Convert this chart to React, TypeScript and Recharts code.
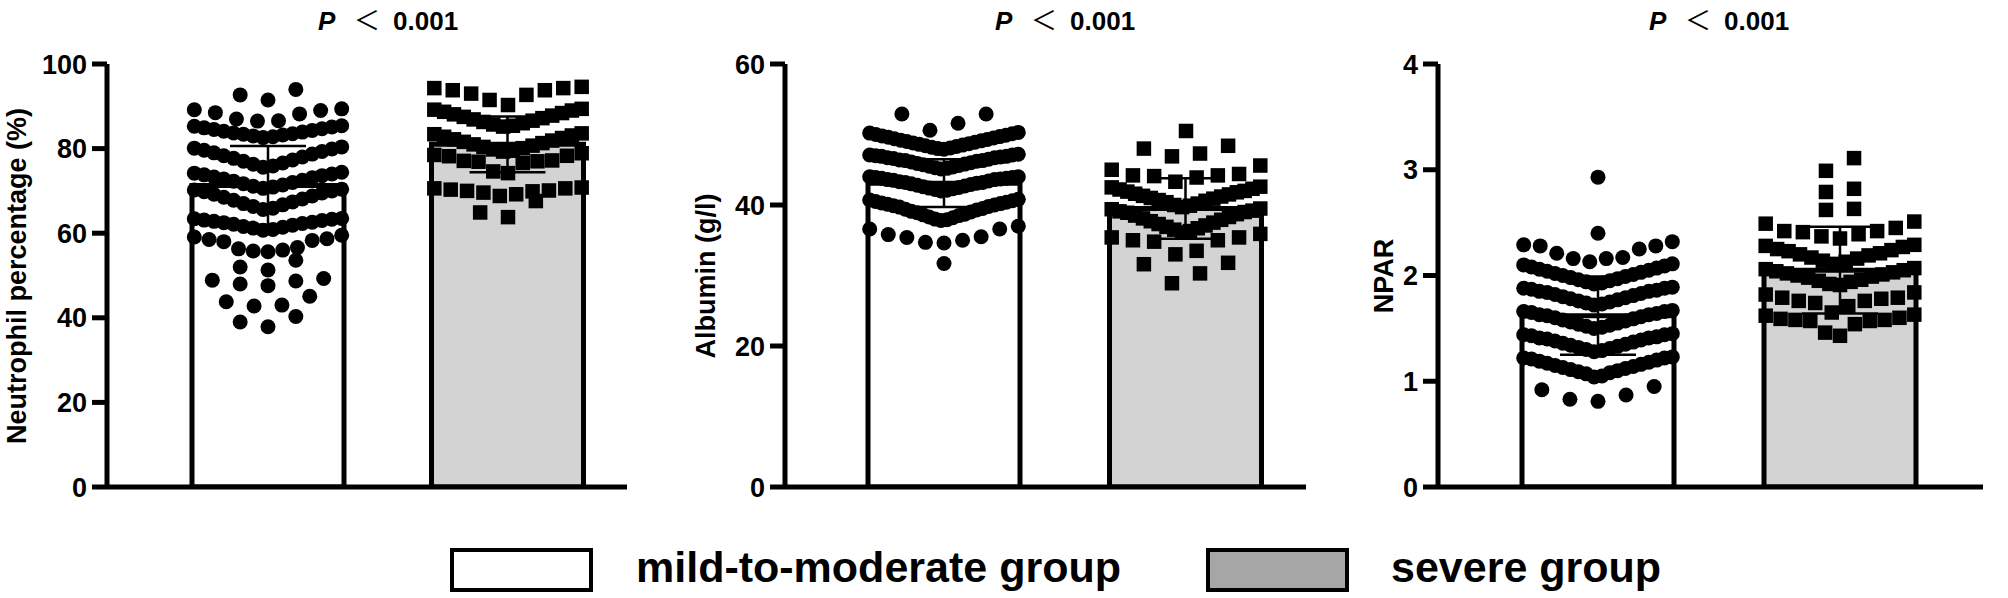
import React from "react";
import { ComposedChart, Bar, Cell, ErrorBar, Scatter, XAxis, YAxis } from "recharts";

const GROUPS = ["mild-to-moderate group", "severe group"];
const GROUP_X = [1, 2];
const P_TEXT = "0.001";

// neutrophil percentage (%)
const NEUT_TICKS = [0, 20, 40, 60, 80, 100];
const NEUT_MEAN = [71.3, 81.0];
const NEUT_SD = [9.3, 6.6];
const NEUT_MILD = [
  37.9, 39.0, 40.3,
  42.8, 43.0, 43.8, 45.1,
  47.6, 48.0, 48.7, 48.9, 49.3,
  51.3, 52.0, 53.6,
  55.6, 55.8, 56.0, 56.3, 56.6, 58.0, 58.3, 58.5, 58.7, 59.1, 59.5,
  60.7, 60.9, 61.2, 61.4, 61.6, 61.9, 62.1, 62.3, 62.5, 62.6, 62.8, 63.0, 63.1, 63.3, 63.4, 63.5,
  65.6, 65.9, 66.3, 66.7, 67.0, 67.4, 67.8, 68.1, 68.5, 68.8, 69.2, 69.5, 69.8, 70.0, 70.2, 70.4,
  70.6, 70.9, 71.1, 71.4, 71.7, 72.0, 72.3, 72.5, 72.8, 73.1, 73.3, 73.6, 73.8, 74.0, 74.2, 74.4,
  75.6, 75.9, 76.3, 76.6, 77.0, 77.3, 77.7, 78.0, 78.3, 78.7, 79.0, 79.3, 79.6, 79.9, 80.1, 80.4,
  82.6, 82.8, 83.0, 83.2, 83.4, 83.5, 83.7, 83.9, 84.1, 84.3, 84.5, 84.7, 84.9, 85.1, 85.3, 85.4,
  86.5, 86.6, 87.0, 88.2, 88.5, 89.0, 89.2, 89.4,
  91.5, 92.7, 94.0,
];
const NEUT_SEVERE = [
  63.8, 64.9, 67.6,
  68.8, 69.2, 69.6, 69.9, 70.0, 70.1, 70.3, 70.6, 70.6, 70.8,
  74.2, 74.6, 76.6, 76.9, 77.0, 77.1, 77.2, 78.2, 78.3, 78.5, 78.9,
  79.3, 79.5, 79.8, 80.1, 80.4, 80.7, 81.0, 81.3, 81.6, 81.9, 82.2, 82.5, 82.8, 83.1, 83.4, 83.6,
  85.2, 85.4, 85.7, 86.0, 86.3, 86.6, 86.9, 87.2, 87.5, 87.8, 88.1, 88.4, 88.7, 89.0, 89.2, 89.4,
  90.3, 91.5, 92.7, 93.0, 93.8, 93.8, 94.3, 94.3, 94.6,
];

// albumin (g/l)
const ALB_TICKS = [0, 20, 40, 60];
const ALB_MEAN = [43.1, 39.5];
const ALB_SD = [3.4, 4.3];
const ALB_MILD = [
  31.7,
  34.6, 34.7, 35.0, 35.4, 35.5, 35.8, 36.6, 36.6, 37.0,
  37.8, 37.9, 38.0, 38.2, 38.3, 38.5, 38.6, 38.7, 38.9, 39.0, 39.1, 39.3, 39.4,
  39.5, 39.7, 39.8, 39.9, 40.0, 40.1, 40.2, 40.3, 40.4, 40.5, 40.6, 40.7, 40.8,
  42.0, 42.1, 42.2, 42.3, 42.4, 42.5, 42.6, 42.7, 42.8, 42.9, 43.0, 43.1, 43.2,
  43.2, 43.3, 43.4, 43.5, 43.6, 43.6, 43.7, 43.8, 43.8, 43.9, 43.9, 44.0, 44.0,
  45.1, 45.2, 45.3, 45.4, 45.5, 45.6, 45.7, 45.8, 45.9, 46.0, 46.1, 46.2, 46.3,
  46.3, 46.4, 46.5, 46.6, 46.7, 46.7, 46.8, 46.9, 46.9, 47.0, 47.1, 47.1, 47.2,
  47.9, 48.0, 48.1, 48.2, 48.3, 48.4, 48.5, 48.6, 48.7, 48.8, 48.9, 49.0, 49.1,
  49.2, 49.3, 49.4, 49.5, 49.6, 49.7, 49.8, 49.9, 50.0, 50.1, 50.2, 50.3,
  50.6, 51.6, 52.9, 52.9,
];
const ALB_SEVERE = [
  28.9, 30.3, 31.6, 31.8,
  33.0, 33.5, 34.8, 35.0, 35.0, 35.4, 35.4, 35.9,
  36.1, 36.3, 36.5, 36.7, 36.9, 37.1, 37.3, 37.5, 37.7, 37.9,
  38.1, 38.3, 38.5, 38.7, 38.9, 39.0, 39.1, 39.2, 39.4, 39.5,
  39.7, 39.9, 40.0, 40.2, 40.4, 40.6, 40.7, 40.9, 41.0, 41.2,
  41.3, 41.5, 41.6, 41.8, 41.9, 42.0, 42.2, 42.3, 42.5, 42.6,
  43.3, 43.9, 44.1, 44.2, 44.2, 44.4, 45.0, 45.6,
  46.9, 47.3, 48.0, 48.4,
  50.5,
];

// NPAR
const NPAR_TICKS = [0, 1, 2, 3, 4];
const NPAR_MEAN = [1.62, 2.05];
const NPAR_SD = [0.37, 0.41];
const NPAR_MILD = [
  0.81, 0.83, 0.87, 0.92, 0.95,
  1.04, 1.05, 1.07, 1.08, 1.09, 1.10, 1.11, 1.12, 1.13, 1.14,
  1.15, 1.16, 1.17, 1.18, 1.19, 1.20, 1.21, 1.22, 1.22, 1.23,
  1.28, 1.29, 1.30, 1.31, 1.32, 1.33, 1.34, 1.35, 1.36, 1.37,
  1.38, 1.39, 1.40, 1.41, 1.41, 1.42, 1.43, 1.44, 1.44, 1.45,
  1.50, 1.51, 1.52, 1.53, 1.54, 1.55, 1.56, 1.57, 1.58, 1.59,
  1.60, 1.61, 1.62, 1.63, 1.63, 1.64, 1.65, 1.66, 1.66, 1.67,
  1.72, 1.73, 1.74, 1.75, 1.76, 1.77, 1.78, 1.79, 1.80, 1.81,
  1.82, 1.83, 1.84, 1.85, 1.85, 1.86, 1.87, 1.88, 1.88, 1.89,
  1.92, 1.93, 1.94, 1.95, 1.96, 1.97, 1.98, 1.99, 2.00, 2.01,
  2.02, 2.03, 2.04, 2.05, 2.06, 2.07, 2.08, 2.09, 2.10, 2.11,
  2.13, 2.16, 2.16, 2.17, 2.21, 2.25, 2.28, 2.28, 2.29, 2.32,
  2.40, 2.93,
];
const NPAR_SEVERE = [
  1.43, 1.46, 1.54, 1.57, 1.57, 1.58, 1.58, 1.59, 1.60, 1.62, 1.63,
  1.65, 1.71, 1.74, 1.76, 1.76, 1.78, 1.79, 1.79, 1.82, 1.84,
  1.91, 1.92, 1.94, 1.95, 1.96, 1.98, 1.99, 2.00, 2.01, 2.02, 2.03, 2.04, 2.05, 2.06, 2.07,
  2.11, 2.13, 2.14, 2.16, 2.17, 2.19, 2.20, 2.21, 2.23, 2.24, 2.25, 2.27, 2.28, 2.29,
  2.35, 2.37, 2.39, 2.41, 2.42, 2.42, 2.45, 2.49, 2.51,
  2.62, 2.63, 2.79, 2.82, 2.99, 3.11,
];

// row grid of the dot plot (value units), one per group
type RowGrid = { base: number; step: number };
const NEUT_ROWS: RowGrid[] = [{ base: 0.5, step: 5 }, { base: 63.5, step: 5.2 }];
const ALB_ROWS: RowGrid[] = [{ base: 31.3, step: 3.2 }, { base: 28.8, step: 3.6 }];
const NPAR_ROWS: RowGrid[] = [{ base: 0.8, step: 0.22 }, { base: 1.42, step: 0.22 }];

const HALF_SPREAD = 0.307; // in category units
const MAX_GAP = 0.116;
const FONT = "'Liberation Sans', Arial, Helvetica, sans-serif";

// GraphPad-like scatter: values binned into rows, lowest in the middle
function dotLayout(values: number[], center: number, grid: RowGrid) {
  const rows = new Map<number, number[]>();
  values.forEach((v) => {
    const k = Math.floor((v - grid.base) / grid.step);
    if (!rows.has(k)) rows.set(k, []);
    rows.get(k)!.push(v);
  });
  const pts: { x: number; y: number }[] = [];
  rows.forEach((row) => {
    row.sort((a, b) => a - b);
    const n = row.length;
    const gap = n > 1 ? Math.min(MAX_GAP, (2 * HALF_SPREAD) / (n - 1)) : 0;
    const slots = row.map((_, i) => (i - (n - 1) / 2) * gap);
    const order = slots
      .map((_, i) => i)
      .sort((a, b) => Math.abs(slots[a]) - Math.abs(slots[b]) || slots[a] - slots[b]);
    order.forEach((slot, rank) => pts.push({ x: center + slots[slot], y: row[rank] }));
  });
  return pts;
}

const circleDot = (p: any) => <circle cx={p.cx} cy={p.cy} r={7.5} fill="#000" />;
const squareDot = (p: any) => (
  <rect x={p.cx - 7.25} y={p.cy - 7.25} width={14.5} height={14.5} fill="#000" />
);

type PanelProps = {
  plotLeft: number;
  plotWidth: number;
  firstCenter: number;
  spacing: number;
  ticks: number[];
  mean: number[];
  sd: number[];
  mild: number[];
  severe: number[];
  rows: RowGrid[];
  label: string;
  labelX: number;
};

function Panel(props: PanelProps) {
  const { plotLeft, plotWidth, firstCenter, spacing, ticks } = props;
  // numeric axis for the dots, category axis for the bars, both aligned
  const d0 = 1 - (firstCenter - plotLeft) / spacing;
  const d1 = d0 + plotWidth / spacing;
  const padLeft = firstCenter - plotLeft - spacing / 2;
  const padRight = Math.max(0, plotWidth - padLeft - 2 * spacing);
  const bars = GROUPS.map((name, i) => ({ name, mean: props.mean[i], sd: props.sd[i] }));
  const mildPts = dotLayout(props.mild, GROUP_X[0], props.rows[0]);
  const severePts = dotLayout(props.severe, GROUP_X[1], props.rows[1]);
  const titleX = firstCenter + spacing / 2;
  const axisStyle = { stroke: "#000", strokeWidth: 5 };

  return (
    <>
      <div
        style={{
          position: "absolute",
          left: titleX,
          top: 4,
          transform: "translateX(-50%)",
          whiteSpace: "nowrap",
          fontFamily: FONT,
          fontSize: 26,
          fontWeight: 700,
          lineHeight: "30px",
        }}
      >
        <span style={{ fontStyle: "italic" }}>P</span>
        <span style={{ fontWeight: 400, fontFamily: "'Noto Sans CJK SC', sans-serif" }}>
          {"\u2002 ＜\u2002"}
        </span>
        {P_TEXT}
      </div>

      <div
        style={{
          position: "absolute",
          left: props.labelX,
          top: 275.5,
          transform: "translate(-50%, -50%) rotate(-90deg)",
          whiteSpace: "nowrap",
          fontFamily: FONT,
          fontSize: 27,
          fontWeight: 700,
          lineHeight: 1,
        }}
      >
        {props.label}
      </div>

      <div style={{ position: "absolute", left: plotLeft - 100, top: 0 }}>
        <ComposedChart
          width={plotWidth + 110}
          height={507}
          data={bars}
          margin={{ top: 64, right: 10, bottom: 0, left: 20 }}
        >
          <XAxis
            xAxisId="cat"
            type="category"
            dataKey="name"
            padding={{ left: padLeft, right: padRight }}
            tick={false}
            tickSize={15}
            tickLine={axisStyle}
            axisLine={axisStyle}
            height={20}
          />
          <XAxis
            xAxisId="num"
            type="number"
            dataKey="x"
            domain={[d0, d1]}
            allowDataOverflow
            hide
          />
          <YAxis
            type="number"
            domain={[0, ticks[ticks.length - 1]]}
            ticks={ticks}
            interval={0}
            allowDataOverflow
            width={80}
            tickSize={15}
            tickMargin={5}
            tickLine={axisStyle}
            axisLine={axisStyle}
            tick={{ fill: "#000", fontSize: 27, fontWeight: 700, fontFamily: FONT }}
          />
          <Bar
            xAxisId="cat"
            dataKey="mean"
            barSize={152}
            stroke="#000"
            strokeWidth={5}
            isAnimationActive={false}
          >
            <Cell fill="#ffffff" />
            <Cell fill="#d3d3d3" />
            <ErrorBar dataKey="sd" direction="y" width={38} stroke="#000" strokeWidth={2.5} />
          </Bar>
          <Scatter
            xAxisId="num"
            data={mildPts}
            dataKey="y"
            shape={circleDot}
            isAnimationActive={false}
          />
          <Scatter
            xAxisId="num"
            data={severePts}
            dataKey="y"
            shape={squareDot}
            isAnimationActive={false}
          />
        </ComposedChart>
      </div>
    </>
  );
}

function LegendItem(props: { left: number; textLeft: number; fill: string; text: string }) {
  return (
    <>
      <div
        style={{
          position: "absolute",
          left: props.left,
          top: 548,
          width: 143,
          height: 44,
          boxSizing: "border-box",
          border: "4px solid #000",
          background: props.fill,
        }}
      />
      <div
        style={{
          position: "absolute",
          left: props.textLeft,
          top: 546,
          whiteSpace: "nowrap",
          fontFamily: FONT,
          fontSize: 43,
          fontWeight: 700,
          lineHeight: 1,
        }}
      >
        {props.text}
      </div>
    </>
  );
}

export default function App() {
  return (
    <div
      style={{
        position: "absolute",
        left: 0,
        top: 0,
        width: 2008,
        height: 598,
        background: "#fff",
        overflow: "hidden",
        color: "#000",
      }}
    >
      <Panel
        plotLeft={107}
        plotWidth={520}
        firstCenter={268}
        spacing={240}
        ticks={NEUT_TICKS}
        mean={NEUT_MEAN}
        sd={NEUT_SD}
        mild={NEUT_MILD}
        severe={NEUT_SEVERE}
        rows={NEUT_ROWS}
        label="Neutrophil percentage (%)"
        labelX={17}
      />
      <Panel
        plotLeft={785}
        plotWidth={521}
        firstCenter={944}
        spacing={242}
        ticks={ALB_TICKS}
        mean={ALB_MEAN}
        sd={ALB_SD}
        mild={ALB_MILD}
        severe={ALB_SEVERE}
        rows={ALB_ROWS}
        label="Albumin (g/l)"
        labelX={706}
      />
      <Panel
        plotLeft={1438}
        plotWidth={545}
        firstCenter={1598}
        spacing={242}
        ticks={NPAR_TICKS}
        mean={NPAR_MEAN}
        sd={NPAR_SD}
        mild={NPAR_MILD}
        severe={NPAR_SEVERE}
        rows={NPAR_ROWS}
        label="NPAR"
        labelX={1384}
      />
      <LegendItem left={450} textLeft={636} fill="#ffffff" text={GROUPS[0]} />
      <LegendItem left={1206} textLeft={1391} fill="#a6a6a6" text={GROUPS[1]} />
    </div>
  );
}
